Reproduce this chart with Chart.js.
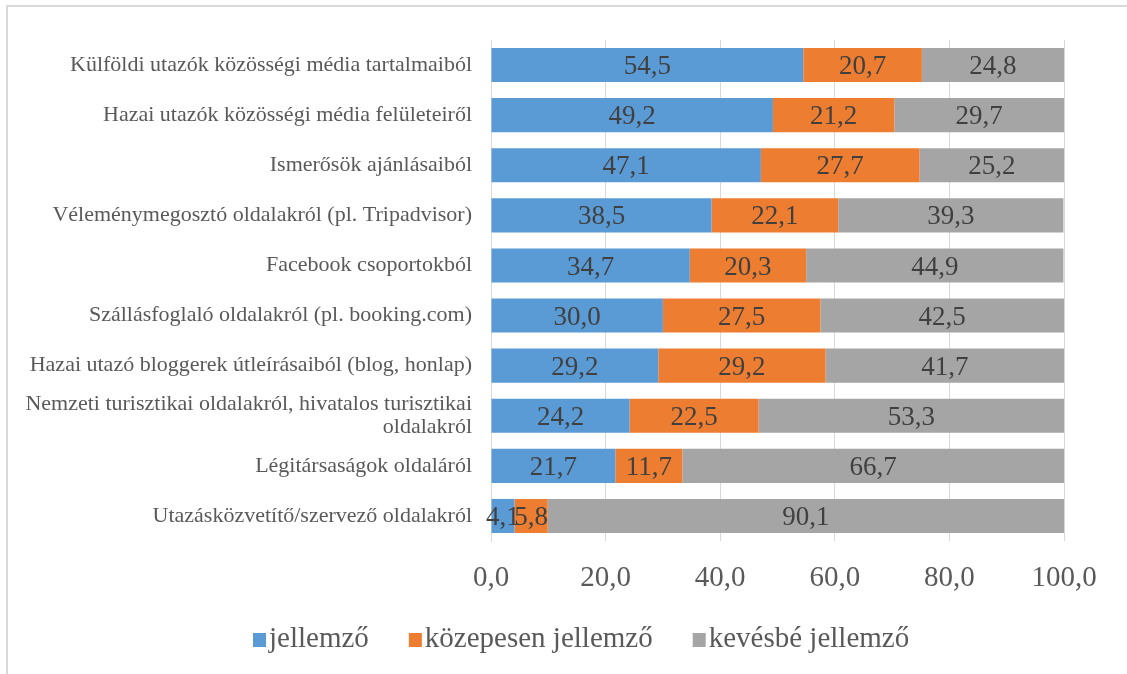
<!DOCTYPE html>
<html>
<head>
<meta charset="utf-8">
<script src="https://cdn.jsdelivr.net/npm/chart.js@4/dist/chart.umd.min.js"></script>
<style>
  html, body { margin: 0; padding: 0; background: #ffffff; }
  #wrap { position: relative; width: 1127px; height: 674px; }
  canvas { display: block; }
</style>
</head>
<body>
<div id="wrap"><canvas id="c" width="1127" height="674"></canvas></div>
<script>
const categories = [
  "Külföldi utazók közösségi média tartalmaiból",
  "Hazai utazók közösségi média felületeiről",
  "Ismerősök ajánlásaiból",
  "Véleménymegosztó oldalakról (pl. Tripadvisor)",
  "Facebook csoportokból",
  "Szállásfoglaló oldalakról (pl. booking.com)",
  "Hazai utazó bloggerek útleírásaiból (blog, honlap)",
  ["Nemzeti turisztikai oldalakról, hivatalos turisztikai", "oldalakról"],
  "Légitársaságok oldaláról",
  "Utazásközvetítő/szervező oldalakról"
];
const seriesNames = ["jellemző", "közepesen jellemző", "kevésbé jellemző"];
const jellemzo = [54.5, 49.2, 47.1, 38.5, 34.7, 30.0, 29.2, 24.2, 21.7, 4.1];
const kozepesen = [20.7, 21.2, 27.7, 22.1, 20.3, 27.5, 29.2, 22.5, 11.7, 5.8];
const kevesbe = [24.8, 29.7, 25.2, 39.3, 44.9, 42.5, 41.7, 53.3, 66.7, 90.1];
const xTicks = [0, 20, 40, 60, 80, 100];

const SERIF = "'Liberation Serif', 'Times New Roman', serif";
const fmt = v => v.toFixed(1).replace('.', ',');

const frame = {
  id: 'frame',
  beforeDraw(chart) {
    const ctx = chart.ctx;
    ctx.save();
    ctx.strokeStyle = '#d9d9d9';
    ctx.lineWidth = 2;
    ctx.beginPath();
    ctx.moveTo(7, 674);
    ctx.lineTo(7, 6);
    ctx.lineTo(1127, 6);
    ctx.stroke();
    ctx.restore();
  }
};

const dataLabels = {
  id: 'dataLabels',
  afterDatasetsDraw(chart) {
    const ctx = chart.ctx;
    const area = chart.chartArea;
    ctx.save();
    ctx.font = "27px " + SERIF;
    ctx.fillStyle = '#404040';
    ctx.textAlign = 'center';
    ctx.textBaseline = 'middle';
    chart.data.datasets.forEach((ds, di) => {
      const meta = chart.getDatasetMeta(di);
      meta.data.forEach((bar, i) => {
        const v = ds.data[i];
        const left = Math.min(bar.x, bar.base);
        const right = Math.min(Math.max(bar.x, bar.base), area.right);
        const cx = (left + right) / 2;
        ctx.fillText(fmt(v), cx, bar.y + 2);
      });
    });
    ctx.restore();
  }
};

const customLegend = {
  id: 'customLegend',
  afterDraw(chart) {
    const ctx = chart.ctx;
    ctx.save();
    ctx.font = "29px " + SERIF;
    ctx.textAlign = 'left';
    ctx.textBaseline = 'alphabetic';
    let x = 253;
    const baseY = 647;
    chart.data.datasets.forEach(ds => {
      ctx.fillStyle = ds.backgroundColor;
      ctx.fillRect(x, 633, 13, 14);
      const tx = x + 16;
      ctx.fillStyle = '#595959';
      ctx.fillText(ds.label, tx, baseY);
      x = tx + ctx.measureText(ds.label).width + 40;
    });
    ctx.restore();
  }
};

new Chart(document.getElementById('c'), {
  type: 'bar',
  data: {
    labels: categories,
    datasets: [
      { label: seriesNames[0], data: jellemzo, backgroundColor: '#5b9bd5', borderColor: '#5b9bd5' },
      { label: seriesNames[1], data: kozepesen, backgroundColor: '#ed7d31', borderColor: '#ed7d31' },
      { label: seriesNames[2], data: kevesbe, backgroundColor: '#a5a5a5', borderColor: '#a5a5a5' }
    ]
  },
  options: {
    indexAxis: 'y',
    responsive: false,
    animation: false,
    datasets: { bar: { categoryPercentage: 1, barPercentage: 0.68 } },
    layout: { padding: { top: 40, bottom: 63, left: 0, right: 63 } },
    scales: {
      x: {
        stacked: true,
        min: 0,
        max: 100,
        afterBuildTicks(scale) { scale.ticks = xTicks.map(v => ({ value: v })); },
        afterFit(scale) { scale.height = 70; },
        grid: { color: '#d9d9d9', lineWidth: 1, drawTicks: false },
        border: { display: false },
        ticks: {
          padding: 20,
          color: '#595959',
          font: { family: SERIF, size: 29 },
          callback: v => fmt(v)
        }
      },
      y: {
        stacked: true,
        afterFit(scale) { scale.width = 491; },
        grid: { display: false, drawTicks: false },
        border: { display: true, color: '#d9d9d9', width: 1 },
        ticks: {
          padding: 19,
          color: '#595959',
          font: { family: SERIF, size: 22, lineHeight: 1.05 },
          autoSkip: false
        }
      }
    },
    plugins: {
      legend: { display: false },
      tooltip: { enabled: false }
    }
  },
  plugins: [frame, dataLabels, customLegend]
});
</script>
</body>
</html>
